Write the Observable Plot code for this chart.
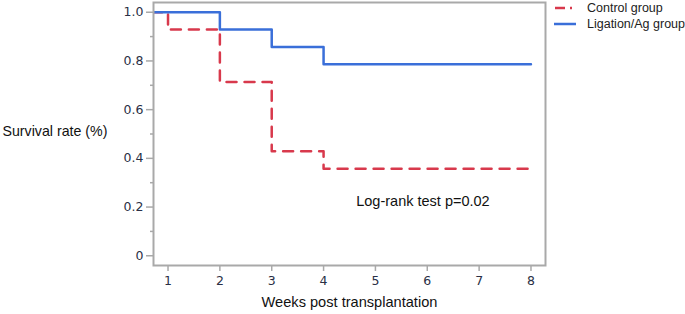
<!DOCTYPE html>
<html>
<head>
<meta charset="utf-8">
<script src="https://cdn.jsdelivr.net/npm/d3@7"></script>
<script src="https://cdn.jsdelivr.net/npm/@observablehq/plot@0.6"></script>
<style>
  html, body { margin: 0; padding: 0; background: #fff; }
  #wrap { position: relative; width: 685px; height: 314px; }
  #legend { position: absolute; left: 553px; top: 0px; font-family: "Liberation Sans", Arial, sans-serif; font-size: 12.5px; color: #222; line-height: 16px; }
  #legend .row { display: flex; align-items: center; height: 16px; }
  #legend svg { margin-right: 10px; }
</style>
</head>
<body>
<div id="wrap"></div>
<script>
// Data
const controlWeeks = [0, 1, 2, 3, 4, 8];
const controlSurvival = [1, 0.929, 0.714, 0.429, 0.357, 0.357];
const ligationWeeks = [0, 2, 3, 4, 8];
const ligationSurvival = [1, 0.929, 0.857, 0.786, 0.786];
const xTicks = [1, 2, 3, 4, 5, 6, 7, 8];
const yTicks = [0, 0.2, 0.4, 0.6, 0.8, 1.0];
const yMinorTicks = [0.1, 0.3, 0.5, 0.7, 0.9];
const seriesNames = ["Control group", "Ligation/Ag group"];
const annotation = "Log-rank test p=0.02";

const control = controlWeeks.map((w, i) => ({week: w, s: controlSurvival[i]}));
const ligation = ligationWeeks.map((w, i) => ({week: w, s: ligationSurvival[i]}));

const red = "#d8394c";
const blue = "#3a6fd9";
const tickColor = "#2a2f45";

const chart = Plot.plot({
  width: 685,
  height: 314,
  marginLeft: 153,
  marginRight: 140,
  marginTop: 2,
  marginBottom: 49,
  x: {domain: [0.72, 8.28]},
  y: {domain: [-0.04, 1.04]},
  style: {fontFamily: "'DejaVu Sans', sans-serif", fontSize: "12.5px", color: tickColor, background: "#fff"},
  marks: [
    Plot.line(control, {x: "week", y: "s", curve: "step-after", stroke: red, strokeWidth: 2.5, strokeDasharray: "10,8", clip: true}),
    Plot.line(ligation, {x: "week", y: "s", curve: "step-after", stroke: blue, strokeWidth: 2.5, clip: true}),
    Plot.frame({stroke: "#a9a9a9", strokeWidth: 2}),
    Plot.axisY(yTicks, {tickSize: 7, tickPadding: 3, stroke: "#a9a9a9", strokeWidth: 1.5, tickFormat: d => d === 0 ? "0" : d.toFixed(1), label: null, fill: tickColor}),
    Plot.axisY(yMinorTicks, {tickSize: 3, stroke: "#a9a9a9", strokeWidth: 1.5, tickFormat: () => "", label: null}),
    Plot.axisX(xTicks, {tickSize: 6, tickPadding: 5, stroke: "#a9a9a9", strokeWidth: 1.5, tickFormat: d => String(d), label: null, fill: tickColor}),
    Plot.text([annotation], {x: 4.63, y: 0.225, text: d => d, textAnchor: "start", fontFamily: "'Liberation Sans', Arial, sans-serif", fontSize: 14.5, fill: "#111"}),
    Plot.text(["Survival rate (%)"], {frameAnchor: "left", dx: -151, dy: -3, text: d => d, textAnchor: "start", fontFamily: "'Liberation Sans', Arial, sans-serif", fontSize: 14.2, fill: "#111"}),
    Plot.text(["Weeks post transplantation"], {frameAnchor: "bottom", dy: 41, text: d => d, fontFamily: "'Liberation Sans', Arial, sans-serif", fontSize: 14.6, fill: "#111"})
  ]
});

const wrap = document.getElementById("wrap");
wrap.appendChild(chart);

const legend = document.createElement("div");
legend.id = "legend";
legend.innerHTML = `
  <div class="row"><svg width="24" height="6"><line x1="2" y1="3" x2="12" y2="3" stroke="${red}" stroke-width="2.5"/><line x1="17" y1="3" x2="19" y2="3" stroke="${red}" stroke-width="2.5"/></svg><span>${seriesNames[0]}</span></div>
  <div class="row"><svg width="24" height="6"><line x1="1" y1="3" x2="23" y2="3" stroke="${blue}" stroke-width="2.5"/></svg><span>${seriesNames[1]}</span></div>`;
wrap.appendChild(legend);
</script>
</body>
</html>
